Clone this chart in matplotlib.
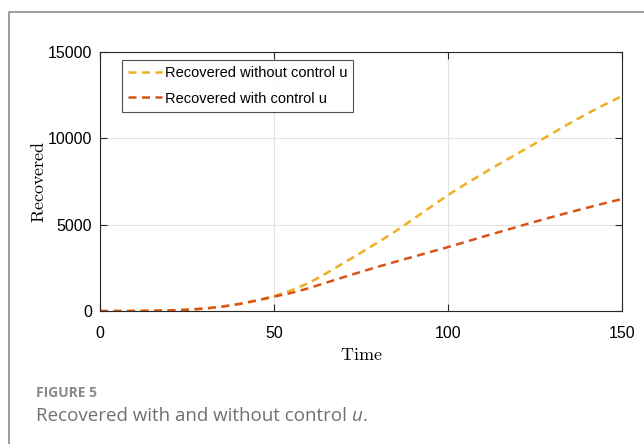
import matplotlib
matplotlib.use("Agg")
import matplotlib.pyplot as plt
from matplotlib.patches import Rectangle

# cumulative recovered, sampled every 5 time units
t = [0, 5, 10, 15, 20, 25, 30, 35, 40, 45, 50, 55, 60, 65, 70, 75,
     80, 85, 90, 95, 100, 105, 110, 115, 120, 125, 130, 135, 140, 145, 150]
rec_without = [0, 2, 6, 15, 35, 75, 140, 250, 410, 620, 860, 1200, 1620, 2180,
               2780, 3380, 3990, 4630, 5320, 6020, 6716, 7350, 7960, 8550,
               9120, 9700, 10290, 10870, 11430, 11950, 12450]
rec_with = [0, 2, 6, 15, 35, 75, 140, 250, 405, 600, 830, 1050, 1320, 1640,
            1960, 2270, 2570, 2860, 3140, 3420, 3700, 4000, 4300, 4590, 4880,
            5170, 5450, 5720, 5980, 6240, 6485]

xticks = [0, 50, 100, 150]
yticks = [0, 5000, 10000, 15000]

tick_font = "Liberation Sans"
plt.rcParams["mathtext.fontset"] = "cm"

fig = plt.figure(figsize=(6.44, 4.44), dpi=100)
W, H = 644, 444

# page frame around the figure panel
fig.patches.append(Rectangle((9 / W, -0.1), 1.2, (444 - 12) / H + 0.1,
                             transform=fig.transFigure, fill=False,
                             edgecolor="#8c8c8c", linewidth=1.2))

ax = fig.add_axes([100 / W, 1 - 311 / H, 522 / W, 259 / H])
ax.plot(t, rec_without, "--", color="#EDB120", linewidth=1.8,
        dashes=(3.2, 2.2), label="Recovered without control u")
ax.plot(t, rec_with, "--", color="#D95319", linewidth=1.8,
        dashes=(3.2, 2.2), label="Recovered with control u")

ax.set_xlim(0, 150)
ax.set_ylim(0, 15000)
ax.set_xticks(xticks)
ax.set_yticks(yticks)
ax.grid(True, color="#e3e3e3", linewidth=0.8)
ax.set_axisbelow(True)
ax.tick_params(direction="in", length=5, width=0.8, color="#262626",
               top=True, right=True, labelsize=11.5)
ax.tick_params(axis="x", pad=10.5)
ax.tick_params(axis="y", pad=5.5)
for lab in ax.get_xticklabels() + ax.get_yticklabels():
    lab.set_fontfamily(tick_font)
for s in ax.spines.values():
    s.set_color("#262626")
    s.set_linewidth(0.8)

ax.set_xlabel(r"$\mathrm{Time}$", fontsize=13, labelpad=4)
ax.set_ylabel(r"$\mathrm{Recovered}$", fontsize=13, labelpad=0)

leg = ax.legend(loc="upper left", bbox_to_anchor=(0.042, 0.97),
                prop={"family": tick_font, "size": 10.5}, frameon=True,
                fancybox=False, edgecolor="#262626", handlelength=2.3,
                handletextpad=0.2, borderpad=0.42, labelspacing=0.8,
                borderaxespad=0)
leg.get_frame().set_linewidth(0.8)

fig.text(36 / W, 1 - 393 / H, "FIGURE 5", fontsize=10, fontweight="bold",
         color="#8a8a8a", family="Open Sans", va="center")
cap = fig.text(36 / W, 1 - 416 / H, "Recovered with and without control ",
               fontsize=13.5, color="#707070", family="Open Sans", va="center")
u = ax.annotate("u", xy=(1, 0), xycoords=cap, va="bottom", ha="left",
                fontsize=13.5, color="#707070", family="Open Sans",
                style="italic", annotation_clip=False)
ax.annotate(".", xy=(1, 0), xycoords=u, va="bottom", ha="left",
            fontsize=13.5, color="#707070", family="Open Sans",
            annotation_clip=False)

fig.savefig("out.png", dpi=100)
